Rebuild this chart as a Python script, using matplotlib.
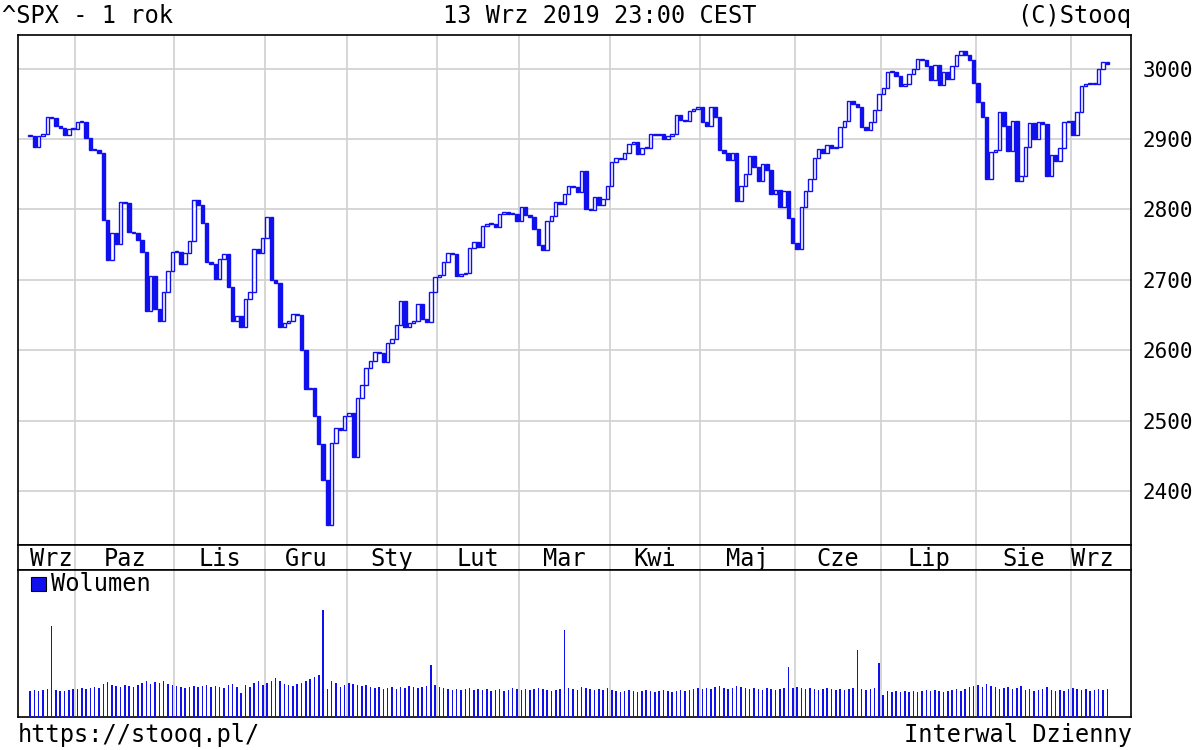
import matplotlib.pyplot as plt
from matplotlib.patches import Rectangle

plt.rcParams['font.family'] = ['DejaVu Sans Mono']

# -----------------------------
# DATA (daily closes, ^SPX, 14 Sep 2018 - 13 Sep 2019)
# -----------------------------
closes = [
    2905, 2889, 2904, 2907, 2931, 2930, 2919, 2916, 2906, 2914, 2914,
    2924, 2925, 2901, 2885, 2884, 2880, 2785, 2728, 2767, 2751, 2810, 2809, 2768, 2767, 2756, 2740, 2656, 2706, 2658, 2641, 2682, 2712, 2740,
    2740, 2723, 2738, 2755, 2814, 2806, 2781, 2726, 2722, 2701, 2730, 2737, 2690, 2641, 2649, 2633, 2673, 2682, 2744, 2738, 2760,
    2790, 2700, 2696, 2633, 2638, 2641, 2651, 2650, 2600, 2545, 2546, 2507, 2467, 2416, 2351, 2468, 2489, 2486, 2507,
    2510, 2448, 2532, 2550, 2574, 2585, 2597, 2596, 2583, 2610, 2616, 2636, 2670, 2633, 2638, 2642, 2665, 2644, 2640, 2682, 2704,
    2707, 2725, 2738, 2737, 2706, 2708, 2710, 2745, 2754, 2746, 2776, 2780, 2779, 2775, 2793, 2796, 2794, 2793, 2784,
    2804, 2792, 2790, 2772, 2749, 2743, 2784, 2791, 2811, 2808, 2822, 2833, 2832, 2825, 2855, 2801, 2799, 2818, 2806, 2815, 2834,
    2867, 2873, 2872, 2880, 2893, 2896, 2879, 2888, 2888, 2907, 2906, 2907, 2900, 2905, 2907, 2934, 2927, 2926, 2940, 2943, 2946,
    2924, 2918, 2946, 2932, 2884, 2880, 2870, 2881, 2812, 2834, 2850, 2876, 2860, 2840, 2864, 2856, 2822, 2827, 2803, 2826, 2788, 2752,
    2744, 2803, 2826, 2843, 2873, 2886, 2880, 2891, 2887, 2889, 2917, 2926, 2954, 2950, 2945, 2917, 2913, 2924, 2942, 2964,
    2973, 2996, 2996, 2990, 2976, 2979, 2993, 2999, 3014, 3013, 3004, 2984, 3005, 2977, 2995, 2986, 3004, 3019, 3026, 3020, 3013, 2980,
    2953, 2932, 2844, 2882, 2884, 2938, 2918, 2883, 2926, 2840, 2847, 2889, 2923, 2900, 2924, 2922, 2847, 2878, 2869, 2887, 2924, 2926,
    2906, 2938, 2976, 2979, 2978, 2979, 3000, 3009, 3007,
]
first_open = 2904

# volume (arbitrary units)
volumes = [
    2.6, 2.7, 2.6, 2.7, 2.8, 9.1, 2.7, 2.6, 2.6, 2.7, 2.8,
    2.8, 2.9, 2.8, 2.9, 3.0, 2.9, 3.3, 3.5, 3.2, 3.1, 3.0, 3.2, 3.1, 3.0, 3.2, 3.4, 3.6, 3.3, 3.5, 3.4, 3.6, 3.3, 3.2,
    3.1, 3.0, 2.9, 3.0, 3.1, 3.0, 3.1, 3.2, 3.0, 3.1, 3.0, 2.9, 3.2, 3.3, 3.0, 2.4, 3.2, 3.0, 3.4, 3.6, 3.2,
    3.4, 3.6, 3.9, 3.6, 3.3, 3.2, 3.1, 3.3, 3.4, 3.6, 3.8, 4.0, 4.2, 10.7, 2.8, 3.6, 3.4, 3.0, 3.2,
    3.4, 3.3, 3.2, 3.1, 3.2, 3.0, 2.9, 3.0, 2.8, 2.9, 3.0, 2.8, 3.0, 2.9, 3.1, 3.0, 2.9, 3.0, 3.1, 5.2, 3.2,
    3.0, 2.9, 2.8, 2.7, 2.8, 2.7, 2.8, 2.9, 2.7, 2.8, 2.7, 2.8, 2.6, 2.7, 2.8, 2.6, 2.7, 2.9, 2.8,
    2.7, 2.8, 2.7, 2.8, 2.9, 2.8, 2.7, 2.6, 2.7, 2.8, 8.7, 2.9, 2.8, 2.7, 3.0, 2.9, 2.8, 2.7, 2.8, 2.7, 2.9,
    2.7, 2.6, 2.5, 2.6, 2.7, 2.6, 2.5, 2.6, 2.7, 2.6, 2.5, 2.6, 2.7, 2.6, 2.5, 2.6, 2.7, 2.6, 2.7, 2.8, 2.9,
    2.8, 2.9, 2.8, 3.0, 3.1, 2.9, 2.8, 2.9, 3.1, 3.0, 2.9, 2.8, 2.9, 2.8, 2.7, 2.9, 2.8, 2.7, 2.8, 2.9, 5.0, 2.9,
    3.0, 2.9, 2.8, 2.9, 2.8, 2.7, 2.8, 2.9, 2.8, 2.7, 2.8, 2.7, 2.8, 2.9, 6.7, 2.8, 2.7, 2.8, 2.9, 5.4,
    2.2, 2.6, 2.5, 2.6, 2.5, 2.6, 2.5, 2.6, 2.5, 2.6, 2.7, 2.6, 2.7, 2.6, 2.5, 2.6, 2.7, 2.8, 2.6, 2.8, 3.0, 3.1,
    3.2, 3.0, 3.3, 3.1, 3.0, 2.8, 2.9, 3.0, 2.8, 2.9, 3.1, 2.7, 2.8, 2.6, 2.7, 2.8, 3.0, 2.7, 2.6, 2.7, 2.6, 2.8,
    2.9, 2.8, 2.7, 2.8, 2.6, 2.7, 2.8, 2.7, 2.8,
]

month_labels = ['Wrz', 'Paz', 'Lis', 'Gru', 'Sty', 'Lut', 'Mar', 'Kwi', 'Maj', 'Cze', 'Lip', 'Sie', 'Wrz']
month_starts = [0, 11, 34, 55, 74, 95, 114, 135, 156, 178, 198, 220, 242]

BLUE = '#1010ee'
GRID = '#d0d0d0'
x0, x1 = -2.8, 255.5
FS = 17

# -----------------------------
# FIGURE
# -----------------------------
fig = plt.figure(figsize=(12, 7.5), dpi=100)
ax = fig.add_axes([0.015, 0.2733, 0.9275, 0.68])
axd = fig.add_axes([0.015, 0.24, 0.9275, 0.0333])
axv = fig.add_axes([0.015, 0.044, 0.9275, 0.196])

opens = [first_open] + closes[:-1]
for i, (o, c) in enumerate(zip(opens, closes)):
    lo, hi = min(o, c), max(o, c)
    h = max(hi - lo, 1.5)
    up = c >= o
    ax.add_patch(Rectangle((i - 0.4, lo), 0.8, h, facecolor='white' if up else BLUE,
                           edgecolor=BLUE, linewidth=1.0, zorder=3))

ax.set_xlim(x0, x1)
ax.set_ylim(2323, 3048)
ax.set_yticks([2400, 2500, 2600, 2700, 2800, 2900, 3000])
ax.yaxis.tick_right()
ax.tick_params(axis='y', length=0, labelsize=15, pad=8)
ax.set_xticks([])
ax.grid(True, axis='y', color=GRID, linewidth=1.2)
for m in month_starts[1:]:
    ax.axvline(m - 0.5, color=GRID, linewidth=1.2, zorder=1)
    axd.axvline(m - 0.5, color=GRID, linewidth=1.2)
    axv.axvline(m - 0.5, color=GRID, linewidth=1.2, zorder=1)

ends = month_starts[1:] + [252]
axd.set_xlim(x0, x1)
axd.set_ylim(0, 1)
axd.set_xticks([]); axd.set_yticks([])
for lab, s, e in zip(month_labels, month_starts, ends):
    axd.text((s + e) / 2 - 0.5, 0.45, lab, ha='center', va='center', fontsize=FS)

axv.bar(range(len(volumes)), volumes, width=0.35, color=BLUE, zorder=3)
axv.set_xlim(x0, x1)
axv.set_ylim(0, 14.7)
axv.set_xticks([]); axv.set_yticks([])
axv.add_patch(Rectangle((0.012, 0.86), 0.013, 0.09, transform=axv.transAxes,
                        facecolor=BLUE, edgecolor='black', linewidth=0.8))
axv.text(0.03, 0.905, 'Wolumen', transform=axv.transAxes, va='center', fontsize=FS)

for a in (ax, axd, axv):
    for sp in a.spines.values():
        sp.set_linewidth(1.2)

fig.text(0.002, 0.979, '^SPX - 1 rok', fontsize=FS, va='center')
fig.text(0.5, 0.979, '13 Wrz 2019 23:00 CEST', fontsize=FS, va='center', ha='center')
fig.text(0.943, 0.979, '(C)Stooq', fontsize=FS, va='center', ha='right')
fig.text(0.015, 0.02, 'https://stooq.pl/', fontsize=FS, va='center')
fig.text(0.943, 0.02, 'Interwal Dzienny', fontsize=FS, va='center', ha='right')

fig.savefig('out.png', dpi=100)
